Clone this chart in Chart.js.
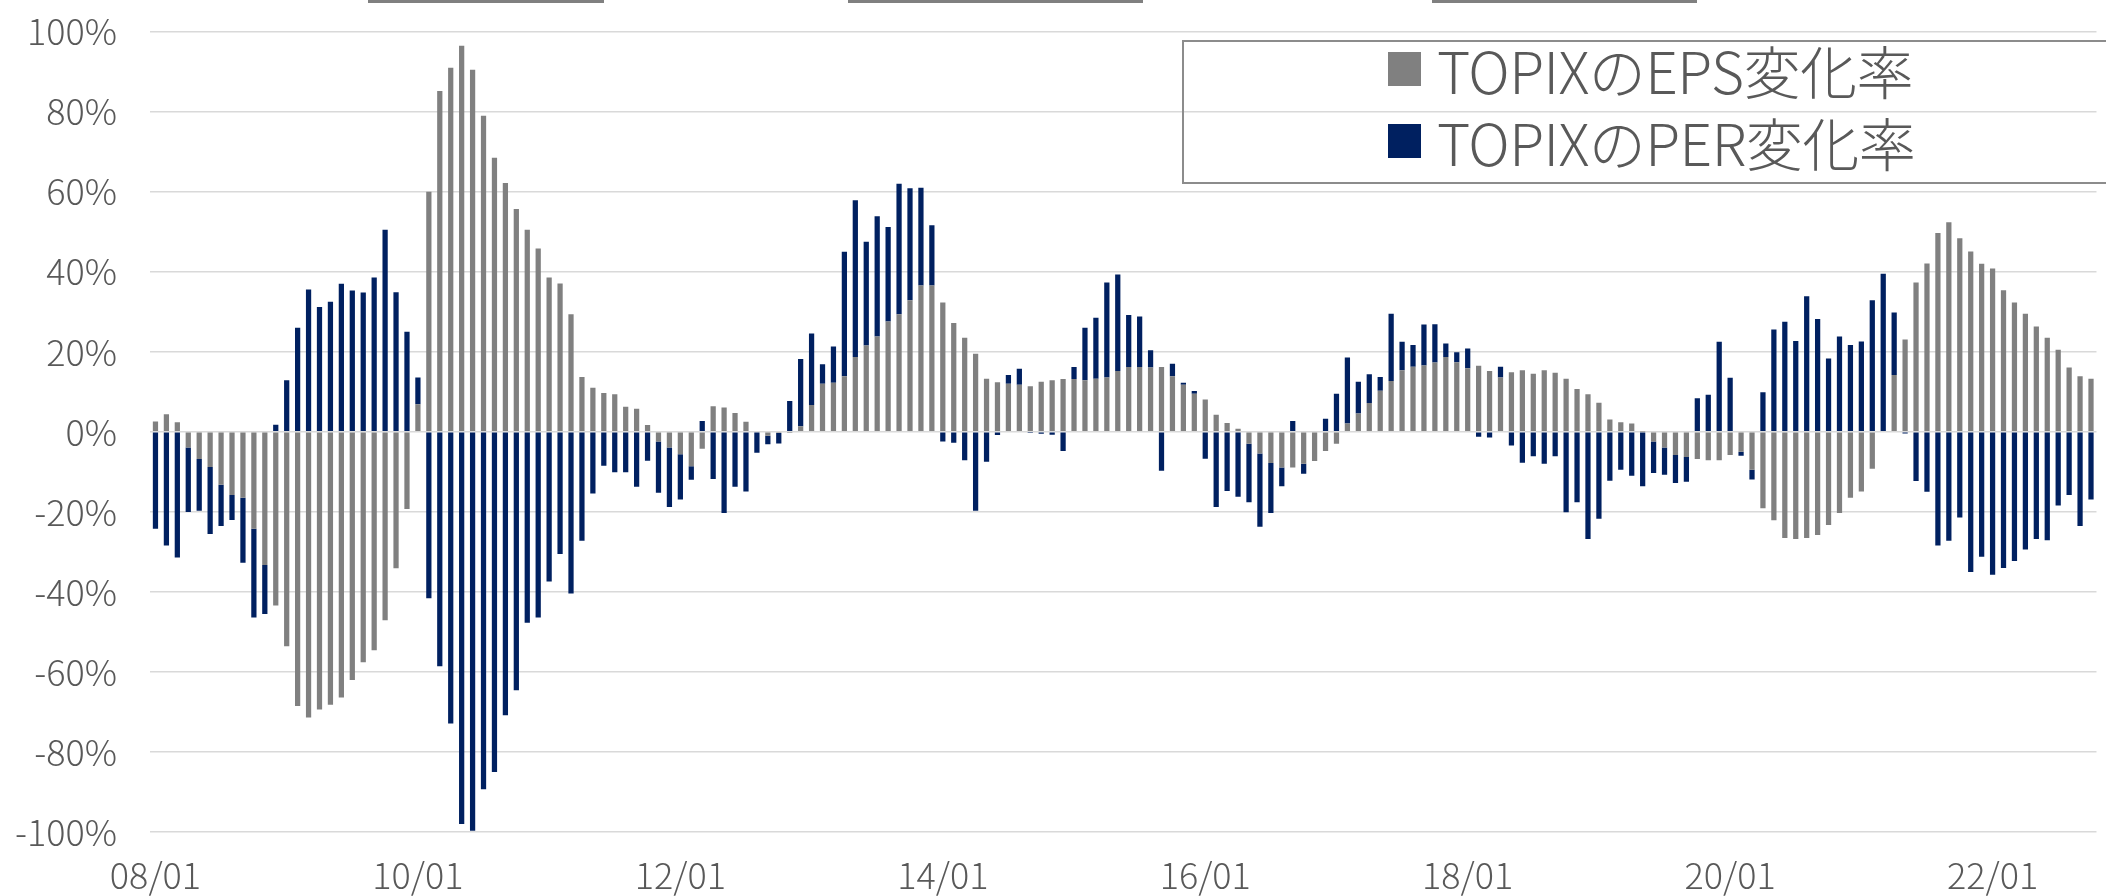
<!DOCTYPE html>
<html lang="ja">
<head>
<meta charset="utf-8">
<title>TOPIX EPS / PER 変化率</title>
<script src="https://cdn.jsdelivr.net/npm/chart.js@4.4.1/dist/chart.umd.min.js"></script>
<style>
  html, body { margin: 0; padding: 0; background: #fff; overflow: hidden; }
  #wrap { position: relative; width: 2113px; height: 896px; }
  #wrap canvas { position: absolute; left: 0; top: 0; }
  .topbar { position: absolute; top: 0; height: 3px; background: #808080; }
  #legend {
    position: absolute; left: 1182px; top: 40px; width: 940px; height: 144px;
    border: 2px solid #8c8c8c; box-sizing: border-box;
    font-family: "Noto Sans CJK JP", "Noto Sans", sans-serif; font-weight: 300; color: #595959;
  }
  #legend .row { position: absolute; left: 204px; height: 60px; display: flex; align-items: center; white-space: nowrap; }
  #legend .sw { width: 33px; height: 34px; margin-right: 16px; }
  #legend .tx { font-size: 57px; line-height: 60px; letter-spacing: -0.55px; }
</style>
</head>
<body>
<div id="wrap">
  <canvas id="chart"></canvas>
  <div class="topbar" style="left:368px;width:236px"></div>
  <div class="topbar" style="left:848px;width:295px"></div>
  <div class="topbar" style="left:1432px;width:265px"></div>
  <div id="legend"></div>
</div>
<script>
/* TOPIX EPS / PER 変化率 (前年比, %) 2008/01 - */
const seriesNames = ["TOPIXのEPS変化率", "TOPIXのPER変化率"];
const seriesColors = ["#808080", "#002060"];
const tickLabels = ["08/01", "10/01", "12/01", "14/01", "16/01", "18/01", "20/01", "22/01"];
const yTicks = [-100, -80, -60, -40, -20, 0, 20, 40, 60, 80, 100];

// EPS change, monthly from 2008/01
const eps = [
  2.6, 4.4, 2.4, -3.9, -6.8, -8.8, -13.2, -15.8, -16.5, -24.2, -33.3, -43.4,
  -53.6, -68.5, -71.4, -69.4, -68.2, -66.4, -62.0, -57.6, -54.6, -47.1, -34.1, -19.3,
  6.9, 60.0, 85.2, 91.0, 96.5, 90.5, 79.0, 68.5, 62.2, 55.7, 50.5, 45.8,
  38.6, 37.1, 29.4, 13.7, 11.0, 9.7, 9.4, 6.3, 5.8, 1.7, -2.4, -3.9,
  -5.6, -8.6, -4.2, 6.4, 6.1, 4.7, 2.5, 0.2, -1.0, -0.3, -0.3, 1.4,
  6.7, 12.0, 12.3, 13.9, 18.7, 21.6, 23.8, 27.6, 29.4, 32.9, 36.6, 36.6,
  32.3, 27.2, 23.5, 19.5, 13.3, 12.4, 12.0, 11.8, 11.4, 12.5, 12.9, 13.2,
  13.2, 12.9, 13.3, 13.6, 15.2, 16.2, 16.2, 16.1, 16.2, 13.9, 11.8, 9.5,
  8.1, 4.3, 2.2, 0.8, -3.0, -5.4, -7.8, -8.9, -8.9, -8.0, -7.3, -4.8,
  -3.0, 2.1, 4.6, 7.2, 10.3, 12.7, 15.4, 16.3, 16.6, 17.3, 18.7, 17.4,
  15.9, 16.5, 15.2, 13.6, 14.9, 15.4, 14.5, 15.4, 14.8, 13.3, 10.7, 9.4,
  7.3, 3.1, 2.4, 2.1, 0.1, -2.4, -3.9, -5.8, -6.3, -6.8, -7.1, -7.1,
  -5.8, -5.0, -9.5, -19.1, -22.1, -26.5, -26.8, -26.5, -25.8, -23.3, -20.3, -16.5,
  -14.9, -9.2, 0, 14.2, 23.1, 37.3, 42.1, 49.7, 52.4, 48.4, 45.1, 42.0,
  40.8, 35.4, 32.3, 29.5, 26.3, 23.5, 20.5, 16.1, 13.9, 13.3
];
// PER change, monthly from 2008/01
const per = [
  -24.2, -28.4, -31.4, -16.1, -12.9, -16.7, -10.3, -6.2, -16.2, -22.2, -12.2, 1.8,
  12.9, 26.0, 35.6, 31.2, 32.5, 37.0, 35.3, 34.8, 38.6, 50.5, 34.9, 25.0,
  6.7, -41.6, -58.6, -72.9, -98.0, -99.7, -89.3, -85.0, -70.8, -64.6, -47.7, -46.4,
  -37.4, -30.5, -40.4, -27.2, -15.4, -8.5, -10.1, -10.1, -13.7, -7.2, -12.8, -14.9,
  -11.3, -3.4, 2.7, -11.8, -20.3, -13.7, -14.9, -5.2, -2.1, -2.6, 7.7, 16.8,
  17.9, 4.9, 9.0, 31.1, 39.2, 25.9, 30.1, 23.6, 32.6, 28.0, 24.4, 15.0,
  -2.4, -2.7, -7.1, -19.7, -7.5, -0.8, 2.2, 4.0, -0.3, -0.5, -0.7, -4.8,
  3.0, 13.1, 15.2, 23.7, 24.1, 13.0, 12.6, 4.3, -9.7, 3.1, 0.5, 0.7,
  -6.7, -18.8, -14.8, -16.2, -14.6, -18.3, -12.5, -4.7, 2.7, -2.5, 0.2, 3.3,
  9.5, 16.5, 7.9, 7.2, 3.4, 16.8, 7.1, 5.4, 10.2, 9.6, 3.4, 2.5,
  4.9, -1.2, -1.4, 2.7, -3.4, -7.7, -6.1, -8.0, -6.1, -20.1, -17.6, -26.8,
  -21.7, -12.2, -9.5, -11.0, -13.6, -7.9, -6.8, -7.0, -6.2, 8.4, 9.3, 22.5,
  13.5, -1.0, -2.4, 9.9, 25.6, 27.5, 22.7, 33.9, 28.2, 18.3, 23.8, 21.7,
  22.6, 32.9, 39.5, 15.6, -0.4, -12.3, -15.0, -28.4, -27.2, -21.4, -35.0, -31.2,
  -35.7, -34.0, -32.3, -29.4, -26.8, -27.1, -18.4, -15.8, -23.5, -16.9
];

// month labels yy/mm starting 2008/01
const months = eps.map((_, i) => {
  const y = 8 + Math.floor(i / 12), m = (i % 12) + 1;
  return String(y).padStart(2, "0") + "/" + String(m).padStart(2, "0");
});

const FONT = "'Noto Sans CJK JP', 'Noto Sans', sans-serif";
const byId = id => document.getElementById(id);

const chart = new Chart(byId("chart"), {
  type: "bar",
  data: {
    labels: months,
    datasets: [
      { label: seriesNames[0], data: eps, backgroundColor: seriesColors[0] },
      { label: seriesNames[1], data: per, backgroundColor: seriesColors[1] }
    ]
  },
  options: {
    responsive: true,
    maintainAspectRatio: false,
    animation: false,
    layout: { padding: { top: 31.7, left: 0, right: 0, bottom: 0 } },
    datasets: { bar: { categoryPercentage: 1, barPercentage: 0.48, borderWidth: 0 } },
    plugins: { legend: { display: false }, tooltip: { enabled: false } },
    scales: {
      x: {
        stacked: true,
        grid: { display: false, drawTicks: false },
        border: { display: false },
        ticks: {
          autoSkip: false, maxRotation: 0, padding: 22,
          color: "#595959", font: { family: FONT, size: 36, weight: 300 },
          callback: (v, i) => tickLabels.includes(months[i]) ? months[i] : ""
        },
        afterFit: s => { s.height = 64; }
      },
      y: {
        stacked: true,
        min: yTicks[0], max: yTicks[yTicks.length - 1],
        afterBuildTicks: s => { s.ticks = yTicks.map(v => ({ value: v })); },
        grid: { color: "#d9d9d9", lineWidth: 1.5, drawTicks: false },
        border: { display: false },
        ticks: {
          padding: 33, color: "#595959", font: { family: FONT, size: 36, weight: 300 },
          callback: v => v + "%"
        },
        // fixed axis width; tick padding must not push the plot top down
        afterFit: s => { s.width = 150; s.paddingTop = 0; s.paddingBottom = 0; }
      }
    }
  }
});

// legend drawn as html over the plot
const lg = byId("legend");
chart.data.datasets.forEach((ds, i) => {
  const row = document.createElement("div");
  row.className = "row";
  row.style.top = (-3 + i * 72) + "px";
  row.innerHTML = `<span class="sw" style="background:${ds.backgroundColor}"></span><span class="tx">${ds.label}</span>`;
  lg.appendChild(row);
});
</script>
</body>
</html>
